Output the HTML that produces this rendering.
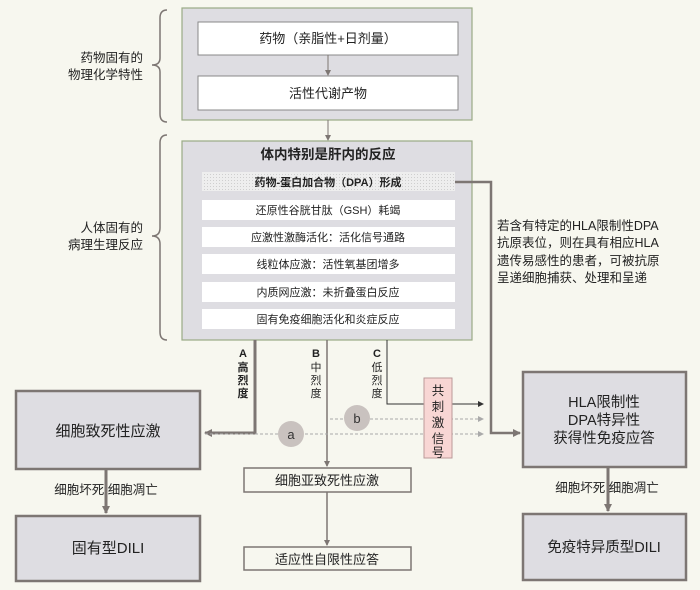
<!DOCTYPE html>
<html><head><meta charset="utf-8"><style>
html,body{margin:0;padding:0;background:#f7f7ef;}
svg{display:block;font-family:"Liberation Sans","Noto Sans CJK SC",sans-serif;}
</style></head><body>
<svg width="700" height="590" viewBox="0 0 700 590" xmlns="http://www.w3.org/2000/svg">
<defs>
<marker id="ah" markerWidth="8" markerHeight="8" refX="7" refY="4" orient="auto" markerUnits="userSpaceOnUse"><path d="M0,0 L8,4 L0,8 z" fill="#7d7673"/></marker>
<marker id="ahs" markerWidth="6" markerHeight="6" refX="5" refY="3" orient="auto" markerUnits="userSpaceOnUse"><path d="M0,0 L6,3 L0,6 z" fill="#7d7673"/></marker>
<marker id="ahk" markerWidth="6" markerHeight="6" refX="5" refY="3" orient="auto" markerUnits="userSpaceOnUse"><path d="M0,0 L6,3 L0,6 z" fill="#333"/></marker>
<marker id="ahd" markerWidth="6" markerHeight="6" refX="5" refY="3" orient="auto" markerUnits="userSpaceOnUse"><path d="M0,0 L6,3 L0,6 z" fill="#aaa"/></marker>
<pattern id="dots" width="3" height="3" patternUnits="userSpaceOnUse"><rect width="3" height="3" fill="#eeeeee"/><rect width="1" height="1" fill="#cfcfcf"/></pattern>
</defs>
<rect width="700" height="590" fill="#f7f7ef"/>

<!-- braces -->
<path d="M167,10 Q160,10 160,18 L160,58 Q160,65 152,65 Q160,65 160,72 L160,114 Q160,122 167,122" fill="none" stroke="#7d7673" stroke-width="1.5"/>
<path d="M167,135 Q160,135 160,143 L160,228 Q160,236 152,236 Q160,236 160,244 L160,332 Q160,340 167,340" fill="none" stroke="#7d7673" stroke-width="1.5"/>
<g font-size="12.5" fill="#222" text-anchor="end">
<text x="143" y="62">药物固有的</text><text x="143" y="79">物理化学特性</text>
<text x="143" y="232">人体固有的</text><text x="143" y="249">病理生理反应</text>
</g>

<!-- top box -->
<rect x="182" y="8" width="290" height="112" fill="#dedde2" stroke="#9aab86" stroke-width="1.2"/>
<rect x="198" y="22" width="260" height="33" fill="#fff" stroke="#888" stroke-width="1"/>
<rect x="198" y="76" width="260" height="34" fill="#fff" stroke="#888" stroke-width="1"/>
<g font-size="13" fill="#222" text-anchor="middle">
<text x="328" y="43">药物（亲脂性+日剂量）</text>
<text x="328" y="98">活性代谢产物</text>
</g>
<line x1="328" y1="55" x2="328" y2="75" stroke="#7d7673" stroke-width="1" marker-end="url(#ahs)"/>
<line x1="328" y1="120" x2="328" y2="140" stroke="#7d7673" stroke-width="1" marker-end="url(#ahs)"/>

<!-- big box -->
<rect x="182" y="141" width="290" height="199" fill="#dedde2" stroke="#9aab86" stroke-width="1.2"/>
<text x="328" y="159" font-size="13.5" font-weight="bold" text-anchor="middle" fill="#222">体内特别是肝内的反应</text>
<rect x="202" y="172" width="253" height="19" fill="url(#dots)"/>
<g fill="#fff"><rect x="202" y="200" width="253" height="20"/><rect x="202" y="227" width="253" height="20"/><rect x="202" y="254" width="253" height="20"/><rect x="202" y="282" width="253" height="20"/><rect x="202" y="309" width="253" height="20"/></g>
<g font-size="11" fill="#222" text-anchor="middle">
<text x="328" y="186" font-weight="bold">药物-蛋白加合物（DPA）形成</text>
<text x="328" y="214">还原性谷胱甘肽（GSH）耗竭</text>
<text x="328" y="241">应激性激酶活化：活化信号通路</text>
<text x="328" y="268">线粒体应激：活性氧基团增多</text>
<text x="328" y="296">内质网应激：未折叠蛋白反应</text>
<text x="328" y="323">固有免疫细胞活化和炎症反应</text>
</g>

<!-- DPA path -->
<polyline points="455,182 491,182 491,433 520,433" fill="none" stroke="#7d7673" stroke-width="2.5" marker-end="url(#ah)"/>
<g font-size="12.5" fill="#222">
<text x="497" y="230">若含有特定的HLA限制性DPA</text>
<text x="497" y="247">抗原表位，则在具有相应HLA</text>
<text x="497" y="265">遗传易感性的患者，可被抗原</text>
<text x="497" y="282">呈递细胞捕获、处理和呈递</text>
</g>

<!-- A/B/C -->
<polyline points="255,340 255,433 205,433" fill="none" stroke="#7d7673" stroke-width="3" marker-end="url(#ah)"/>
<line x1="327" y1="340" x2="327" y2="466" stroke="#7d7673" stroke-width="1.5" marker-end="url(#ahs)"/>
<polyline points="387,340 387,404 483,404" fill="none" stroke="#333" stroke-width="1" marker-end="url(#ahk)"/>
<line x1="330" y1="419" x2="483" y2="419" stroke="#aaa" stroke-width="1" stroke-dasharray="3,2" marker-end="url(#ahd)"/>
<line x1="205" y1="434" x2="483" y2="434" stroke="#aaa" stroke-width="1" stroke-dasharray="3,2" marker-end="url(#ahd)"/>
<circle cx="291" cy="434" r="13" fill="#c9c2bf"/><text x="291" y="439" font-size="13" text-anchor="middle" fill="#333">a</text>
<circle cx="357" cy="418" r="13" fill="#c9c2bf"/><text x="357" y="423" font-size="13" text-anchor="middle" fill="#333">b</text>
<g font-size="11" fill="#222" text-anchor="middle">
<text x="243" y="357" font-weight="bold">A</text><text x="243" y="371" font-weight="bold">高</text><text x="243" y="384" font-weight="bold">烈</text><text x="243" y="397" font-weight="bold">度</text>
<text x="316" y="357" font-weight="bold">B</text><text x="316" y="371">中</text><text x="316" y="384">烈</text><text x="316" y="397">度</text>
<text x="377" y="357" font-weight="bold">C</text><text x="377" y="371">低</text><text x="377" y="384">烈</text><text x="377" y="397">度</text>
</g>
<rect x="424" y="378" width="28" height="80" fill="#f8d6d4" stroke="#b99" stroke-width="1"/>
<g font-size="12.5" fill="#222" text-anchor="middle"><text x="438" y="395">共</text><text x="438" y="411">刺</text><text x="438" y="427">激</text><text x="438" y="443">信</text><text x="438" y="457">号</text></g>

<!-- left boxes -->
<rect x="16" y="391" width="184" height="78" fill="#dedde2" stroke="#7d7673" stroke-width="2.5"/>
<text x="108" y="436" font-size="15" text-anchor="middle" fill="#222">细胞致死性应激</text>
<line x1="106" y1="469" x2="106" y2="513" stroke="#7d7673" stroke-width="3" marker-end="url(#ah)"/>
<text x="106" y="494" font-size="12.5" text-anchor="middle" fill="#222">细胞坏死 细胞凋亡</text>
<rect x="16" y="516" width="184" height="65" fill="#dedde2" stroke="#7d7673" stroke-width="2.5"/>
<text x="108" y="553" font-size="15" text-anchor="middle" fill="#222">固有型DILI</text>

<!-- middle boxes -->
<rect x="244" y="468" width="167" height="24" fill="#f7f7ef" stroke="#7d7673" stroke-width="1.5"/>
<text x="327" y="485" font-size="13" text-anchor="middle" fill="#222">细胞亚致死性应激</text>
<line x1="327" y1="492" x2="327" y2="545" stroke="#7d7673" stroke-width="1.5" marker-end="url(#ahs)"/>
<rect x="244" y="547" width="167" height="23" fill="#f7f7ef" stroke="#7d7673" stroke-width="1.5"/>
<text x="327" y="564" font-size="13" text-anchor="middle" fill="#222">适应性自限性应答</text>

<!-- right boxes -->
<rect x="523" y="372" width="163" height="95" fill="#dedde2" stroke="#7d7673" stroke-width="2.5"/>
<g font-size="14.5" text-anchor="middle" fill="#222"><text x="604" y="407">HLA限制性</text><text x="604" y="425">DPA特异性</text><text x="604" y="443">获得性免疫应答</text></g>
<line x1="608" y1="467" x2="608" y2="511" stroke="#7d7673" stroke-width="3" marker-end="url(#ah)"/>
<text x="607" y="492" font-size="12.5" text-anchor="middle" fill="#222">细胞坏死 细胞凋亡</text>
<rect x="523" y="514" width="163" height="66" fill="#dedde2" stroke="#7d7673" stroke-width="2.5"/>
<text x="604" y="552" font-size="14.5" text-anchor="middle" fill="#222">免疫特异质型DILI</text>
</svg>
</body></html>
